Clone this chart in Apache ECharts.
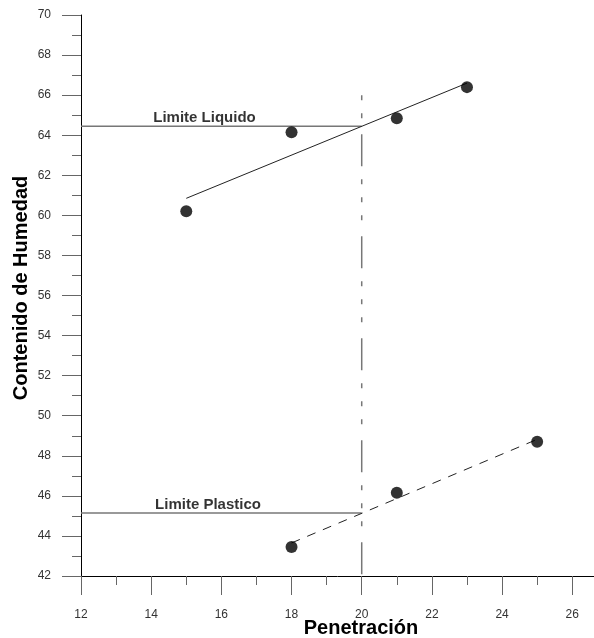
<!DOCTYPE html>
<html>
<head>
<meta charset="utf-8">
<title>Limites</title>
<script src="https://cdn.jsdelivr.net/npm/echarts@6/dist/echarts.min.js"></script>
<style>
  html, body { margin: 0; padding: 0; background: #fff; }
</style>
</head>
<body>
<div style="width:594px;height:638px;" id="limitesChart"></div>
<script>
// puntos medidos
const liquidPen = [15, 18, 21, 23];
const liquidHum = [60.2, 64.15, 64.85, 66.4];
const plasticPen = [18, 21, 25];
const plasticHum = [43.45, 46.15, 48.7];

// rectas de ajuste (extremos)
const liquidFit = [[15, 60.85], [23, 66.6]];
const plasticFit = [[18, 43.65], [25, 48.82]];

// limites
const limitPen = 20;
const liquidLimit = 64.45;
const plasticLimit = 45.15;
const limitTop = 66.0;
const limitLabels = ["Limite Liquido", "Limite Plastico"];
const limitLabelPen = [15.52, 15.62];

// ejes
const xMajor = [12, 14, 16, 18, 20, 22, 24, 26];
const xMinor = [13, 15, 17, 19, 21, 23, 25];
const xMin = 12, xMax = 26.62;
const yMin = 42, yMax = 70, yStep = 2;

const font = "'Liberation Sans', Arial, sans-serif";

let chart = echarts.init(document.getElementById("limitesChart"));

const zip = (xs, ys) => xs.map((x, i) => [x, ys[i]]);

const option = {
  animation: false,
  backgroundColor: "#fff",
  grid: { left: 81, right: 0, top: 15, bottom: 62, containLabel: false, outerBoundsMode: "none" },
  xAxis: [
    {
      type: "value",
      min: xMin,
      max: xMax,
      name: "Penetración",
      nameLocation: "middle",
      nameGap: 42,
      nameMoveOverlap: false,
      nameTextStyle: {
        fontFamily: font,
        fontSize: 20,
        fontWeight: "bold",
        color: "#000",
        padding: [0, 0, 0, 47]
      },
      splitLine: { show: false },
      axisLine: { lineStyle: { color: "#000", width: 1 } },
      axisTick: {
        customValues: xMajor,
        length: 19,
        lineStyle: { color: "#666", width: 1 }
      },
      axisLabel: {
        customValues: xMajor,
        margin: 33,
        fontFamily: font,
        fontSize: 12,
        color: "#333"
      }
    },
    {
      // ticks menores
      type: "value",
      min: xMin,
      max: xMax,
      position: "bottom",
      splitLine: { show: false },
      axisLine: { show: false },
      axisTick: {
        customValues: xMinor,
        length: 9,
        lineStyle: { color: "#666", width: 1 }
      },
      axisLabel: { show: false }
    }
  ],
  yAxis: {
    type: "value",
    min: yMin,
    max: yMax,
    interval: yStep,
    name: "Contenido de Humedad",
    nameLocation: "middle",
    nameGap: 50,
    nameMoveOverlap: false,
    nameTextStyle: {
      fontFamily: font,
      fontSize: 20,
      fontWeight: "bold",
      color: "#000",
      padding: [0, 0, 0, 15]
    },
    splitLine: { show: false },
    axisLine: { show: true, lineStyle: { color: "#000", width: 1 } },
    axisTick: { length: 19, lineStyle: { color: "#666", width: 1 } },
    minorTick: { show: true, splitNumber: 2, length: 9, lineStyle: { color: "#666", width: 1 } },
    axisLabel: {
      margin: 30,
      fontFamily: font,
      fontSize: 12,
      color: "#333"
    }
  },
  series: [
    {
      name: "limite-vertical",
      type: "line",
      data: [[limitPen, limitTop], [limitPen, yMin]],
      symbol: "none",
      lineStyle: { color: "#777", width: 1.5, type: [32, 13, 5, 13, 5, 13, 5, 16], dashOffset: 63 },
      z: 1
    },
    {
      name: "limite-liquido",
      type: "line",
      data: [[xMin, liquidLimit], [limitPen, liquidLimit]],
      symbol: "none",
      lineStyle: { color: "#777", width: 1.5 },
      z: 1
    },
    {
      name: "limite-plastico",
      type: "line",
      data: [[xMin, plasticLimit], [limitPen, plasticLimit]],
      symbol: "none",
      lineStyle: { color: "#777", width: 1.5 },
      z: 1
    },
    {
      name: "ajuste-liquido",
      type: "line",
      data: liquidFit,
      symbol: "none",
      lineStyle: { color: "#222", width: 1 },
      z: 2
    },
    {
      name: "ajuste-plastico",
      type: "line",
      data: plasticFit,
      symbol: "none",
      lineStyle: { color: "#222", width: 1, type: [9, 8] },
      z: 2
    },
    {
      name: "liquido",
      type: "scatter",
      data: zip(liquidPen, liquidHum),
      symbol: "circle",
      symbolSize: 12,
      itemStyle: { color: "#000" },
      z: 3
    },
    {
      name: "plastico",
      type: "scatter",
      data: zip(plasticPen, plasticHum),
      symbol: "circle",
      symbolSize: 12,
      itemStyle: { color: "#000" },
      z: 3
    },
    {
      name: "etiquetas",
      type: "scatter",
      symbolSize: 0,
      data: [
        { name: limitLabels[0], value: [limitLabelPen[0], liquidLimit] },
        { name: limitLabels[1], value: [limitLabelPen[1], plasticLimit] }
      ],
      label: {
        show: true,
        position: "top",
        distance: 1,
        formatter: "{b}",
        fontFamily: font,
        fontSize: 15,
        fontWeight: "bold",
        color: "#000"
      },
      silent: true,
      z: 4
    }
  ]
};

chart.setOption(option);

window.addEventListener("resize", function() {
  chart.resize();
});
</script>
</body>
</html>
